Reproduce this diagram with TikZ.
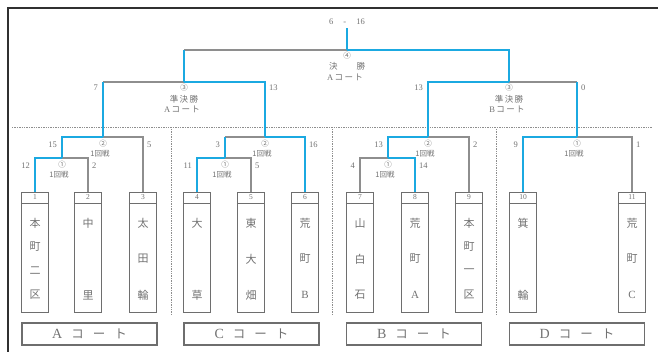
\documentclass[tikz,border=0pt]{standalone}
\usepackage{fontspec}
\setmainfont{Liberation Serif}
\newfontfamily\jp{Noto Sans CJK JP}
\definecolor{win}{HTML}{1BA9E1}
\definecolor{lose}{HTML}{8E8E8E}
\definecolor{txt}{HTML}{727272}
\definecolor{frm}{HTML}{303030}
\definecolor{boxc}{HTML}{6E6E6E}
\newcommand\teamname[4]{%
  \foreach \c [count=\j] in {#4} {%
    \pgfmathsetmacro\yy{223+(\j-1)*72/(#3-1)}%
    \node[nm] (t#1-\j) at (#2,\yy) {\c};
  }}
\begin{document}
\begin{tikzpicture}[x=1pt,y=-1pt,
  wl/.style={draw=win,line width=1.6pt,line join=miter},
  ll/.style={draw=lose,line width=1.6pt,line join=miter},
  frame/.style={draw=frm,line width=2.4pt},
  sep/.style={draw=lose,line width=0.6pt,dash pattern=on 1.4pt off 1pt},
  team/.style={draw=boxc,line width=1.1pt,minimum width=27pt,minimum height=120pt,anchor=north,inner sep=0pt},
  boxl/.style={draw=boxc,line width=0.8pt},
  num/.style={font=\fontsize{7.5}{7.5}\selectfont,text=txt,inner sep=0pt},
  sc/.style={font=\fontsize{8.5}{8.5}\selectfont,text=txt,inner sep=0pt},
  mlab/.style={font=\jp\fontsize{7.5}{7.5}\selectfont,text=txt,inner sep=0pt},
  jl/.style={font=\jp\fontsize{8.5}{8.5}\selectfont,text=txt,inner sep=0pt},
  nm/.style={font=\jp\fontsize{11}{11}\selectfont,text=txt,inner sep=0pt},
  court/.style={draw=boxc,line width=1.1pt,minimum width=135pt,minimum height=22pt,inner sep=0pt,font=\jp\fontsize{12.5}{12.5}\selectfont,text=txt}
]
\useasboundingbox (0,0) rectangle (658,351);
% frame
\coordinate (fTL) at (8,8);
\coordinate (fTR) at (660,8);
\coordinate (fBL) at (8,353);
\draw[frame] (fBL) -- (fTL) -- (fTR);
% separators
\coordinate (hL) at (12,127);
\coordinate (hR) at (652,127);
\draw[sep] (hL) -- (hR);
\foreach \x [count=\i] in {171,332,496} {
  \coordinate (v\i a) at (\x,129);
  \coordinate (v\i b) at (\x,314);
  \draw[sep] (v\i a) -- (v\i b);
}
% team boxes
\foreach \i/\x in {1/35,2/88,3/143,4/197,5/251,6/305,7/360,8/415,9/469,10/523,11/632} {
  \node[team] (b\i) at (\x,192) {};
  \draw[boxl] ([yshift=-11pt]b\i.north west) -- ([yshift=-11pt]b\i.north east);
  \node[num] (n\i) at (\x,197.5) {\i};
}
\teamname{1}{35}{4}{本,町,二,区}
\teamname{2}{88}{2}{中,里}
\teamname{3}{143}{3}{太,田,輪}
\teamname{4}{197}{2}{大,草}
\teamname{5}{251}{3}{東,大,畑}
\teamname{6}{305}{3}{荒,町,{\rmfamily B}}
\teamname{7}{360}{3}{山,白,石}
\teamname{8}{415}{3}{荒,町,{\rmfamily A}}
\teamname{9}{469}{4}{本,町,一,区}
\teamname{10}{523}{2}{箕,輪}
\teamname{11}{632}{3}{荒,町,{\rmfamily C}}
% court labels
\node[court] (cA) at (89.5,334) {{\rmfamily\fontsize{14}{14}\selectfont A}\hspace{9pt}コ\hspace{9pt}ー\hspace{9pt}ト};
\node[court] (cC) at (251.5,334) {{\rmfamily\fontsize{14}{14}\selectfont C}\hspace{9pt}コ\hspace{9pt}ー\hspace{9pt}ト};
\node[court] (cB) at (414,334) {{\rmfamily\fontsize{14}{14}\selectfont B}\hspace{9pt}コ\hspace{9pt}ー\hspace{9pt}ト};
\node[court] (cD) at (577,334) {{\rmfamily\fontsize{14}{14}\selectfont D}\hspace{9pt}コ\hspace{9pt}ー\hspace{9pt}ト};
% match points
\coordinate (m1) at (62,158);
\coordinate (m2) at (103,137);
\coordinate (m3) at (225,158);
\coordinate (m4) at (265,137);
\coordinate (m5) at (388,158);
\coordinate (m6) at (428,137);
\coordinate (m7) at (577,137);
\coordinate (s1) at (184,82);
\coordinate (s2) at (509,82);
\coordinate (f) at (347,50);
\coordinate (top) at (347,28);
% losing lines
\draw[ll] (b2.north) |- (m1);
\draw[ll] (b3.north) |- (m2);
\draw[ll] (m2 |- s1) -- (s1);
\draw[ll] (b5.north) |- (m3);
\draw[ll] (m3 |- m4) -- (m4);
\draw[ll] (b7.north) |- (m5);
\draw[ll] (b9.north) |- (m6);
\draw[ll] (b11.north) |- (m7);
\draw[ll] (m7 |- s2) -- (s2);
\draw[ll] (s1 |- f) -- (f);
% winning lines
\draw[wl] (b1.north) |- (m1);
\draw[wl] (m1) |- (m2);
\draw[wl] (m2) -- (m2 |- s1);
\draw[wl] (b4.north) |- (m3);
\draw[wl] (m3) -- (m3 |- m4);
\draw[wl] (b6.north) |- (m4);
\draw[wl] (m4) |- (s1);
\draw[wl] (s1) -- (s1 |- f);
\draw[wl] (b8.north) |- (m5);
\draw[wl] (m5) |- (m6);
\draw[wl] (m6) |- (s2);
\draw[wl] (b10.north) |- (m7);
\draw[wl] (m7) -- (m7 |- s2);
\draw[wl] (s2) |- (f);
\draw[wl] (f) -- (top);
% final labels
\node[sc] (score) at (347,22) {6\hspace{10pt}-\hspace{10pt}16};
\node[mlab] (fcirc) at (347,55.5) {④};
\node[jl] (fname) at (347,66) {決\hspace{19pt}勝};
\node[jl] (fcourt) at (345,77) {{\rmfamily A}\,コ\,ー\,ト};
% semifinal labels
\node[mlab] (s1c) at (184,88) {③};
\node[jl] (s1n) at (184,99) {準\,決\,勝};
\node[jl] (s1t) at (182,109) {{\rmfamily A}\,コ\,ー\,ト};
\node[sc,anchor=east] (s1l) at (98,88) {7};
\node[sc,anchor=west] (s1r) at (269,88) {13};
\node[mlab] (s2c) at (509,88) {③};
\node[jl] (s2n) at (509,99) {準\,決\,勝};
\node[jl] (s2t) at (507,109) {{\rmfamily B}\,コ\,ー\,ト};
\node[sc,anchor=east] (s2l) at (423,88) {13};
\node[sc,anchor=west] (s2r) at (581,88) {0};
% first-round labels
\foreach \m/\cx/\y/\lx/\rx/\ls/\rs/\cn in {
  m1/62/158/35/88/12/2/①, m2/103/137/62/143/15/5/②,
  m3/225/158/197/251/11/5/①, m4/265/137/225/305/3/16/②,
  m5/388/158/360/415/4/14/①, m6/428/137/388/469/13/2/②,
  m7/577/137/523/632/9/1/①} {
  \node[mlab] (\m c) at (\cx,\y+7) {\cn};
  \node[mlab] (\m n) at (\cx-3,\y+17) {1回戦};
  \node[sc,anchor=east] (\m l) at (\lx-5,\y+7.5) {\ls};
  \node[sc,anchor=west] (\m r) at (\rx+4,\y+7.5) {\rs};
}
\end{tikzpicture}
\end{document}
